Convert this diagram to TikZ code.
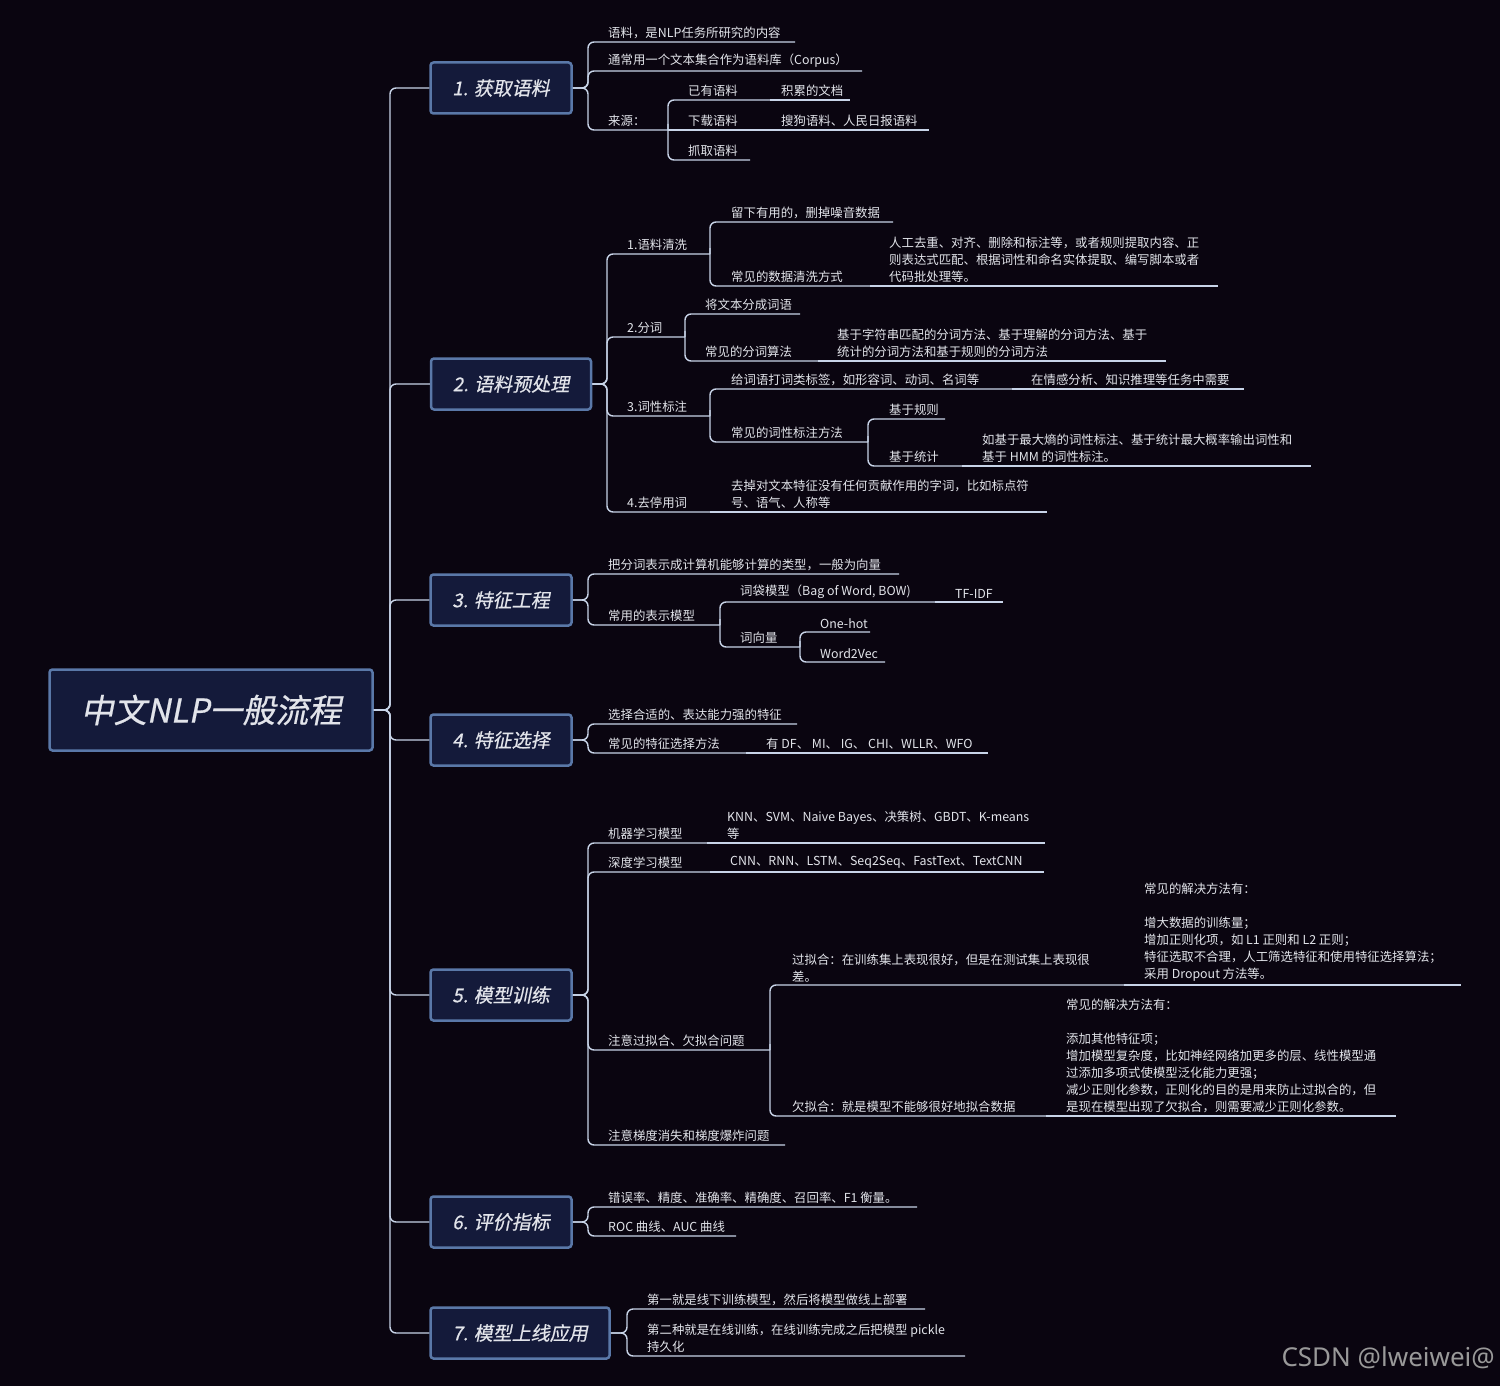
\documentclass[tikz,border=0pt]{standalone}
\usepackage{fontspec}
\setmainfont{Noto Sans CJK SC}
\newfontfamily\brf[FakeSlant=0.2,FakeBold=0.6]{Noto Sans CJK SC}
\newfontfamily\wmf{Noto Sans}
\usetikzlibrary{calc}
\definecolor{bg}{HTML}{0A0510}
\definecolor{nfill}{HTML}{141A3A}
\definecolor{nbord}{HTML}{5A78A8}
\definecolor{ln}{HTML}{C8D4E8}
\definecolor{tx}{HTML}{E2E4EA}
\newdimen\mytmpd
\newcommand\lf[7]{%
  \coordinate (#1) at (#5,#4);
  \path (#2); \pgfgetlastxy{\myax}{\myay}%
  \mytmpd=\dimexpr\myay+#4pt\relax
  \ifdim\mytmpd<1pt\ifdim\mytmpd>-1pt
    \draw[conn] (#2) -- (#1);
  \else
    \draw[conn] let \p1=(#2) in (\p1) -- ({#3pt},\y1) -- (#3,#4) -- (#1);
  \fi\else
    \draw[conn] let \p1=(#2) in (\p1) -- ({#3pt},\y1) -- (#3,#4) -- (#1);
  \fi
  \node[leaf] (#1t) at (#6,{#4-3}) {#7};}
\begin{document}
\begin{tikzpicture}[x=1pt,y=-1pt,
  conn/.style={draw=ln,line width=1.4pt,rounded corners=6pt},
  leaf/.style={anchor=south west,inner sep=0pt,text=tx,align=left,font=\fontsize{12.4}{17}\selectfont},
  br/.style={draw=nbord,fill=nfill,line width=2.5pt,rounded corners=3pt,text=tx,font=\brf\fontsize{19}{22}\selectfont,inner sep=0pt},
]
\fill[bg] (0,0) rectangle (1500,1386);
\useasboundingbox (0,0) rectangle (1500,1386);
\node[br,minimum width=323,minimum height=81,font=\brf\fontsize{33}{36}\selectfont] (root) at (211,710) {中文NLP一般流程};
\node[br,minimum width=141,minimum height=51] (b1) at (501,88) {1. 获取语料};
\node[br,minimum width=160,minimum height=51] (b2) at (511,384) {2. 语料预处理};
\node[br,minimum width=141,minimum height=51] (b3) at (501,600) {3. 特征工程};
\node[br,minimum width=141,minimum height=51] (b4) at (501,740) {4. 特征选择};
\node[br,minimum width=141,minimum height=51] (b5) at (501,995) {5. 模型训练};
\node[br,minimum width=141,minimum height=51] (b6) at (501,1222) {6. 评价指标};
\node[br,minimum width=179,minimum height=51] (b7) at (520,1333) {7. 模型上线应用};
\foreach \b in {b1,b2,b3,b4,b5,b6,b7}{
  \draw[conn] let \p1=(root.east), \p2=(\b.west) in (\p1) -- (390pt,\y1) -- (390pt,\y2) -- (\p2);}
% branch 1
\lf{a1}{b1.east}{588}{42}{795}{608}{语料，是NLP任务所研究的内容}
\lf{a2}{b1.east}{588}{71}{862}{608}{通常用一个文本集合作为语料库（Corpus）}
\lf{a3}{b1.east}{588}{130}{668}{608}{来源：}
\lf{a31}{a3}{668}{100}{770}{688}{已有语料}
\lf{a311}{a31}{770}{100}{850}{781}{积累的文档}
\lf{a32}{a3}{668}{130}{770}{688}{下载语料}
\lf{a321}{a32}{770}{130}{929}{781}{搜狗语料、人民日报语料}
\lf{a33}{a3}{668}{160}{750}{688}{抓取语料}
% branch 2
\lf{c1}{b2.east}{607}{254}{710}{627}{1.语料清洗}
\lf{c11}{c1}{710}{222}{893}{731}{留下有用的，删掉噪音数据}
\lf{c12}{c1}{710}{286}{870}{731}{常见的数据清洗方式}
\lf{c121}{c12}{870}{286}{1218}{889}{人工去重、对齐、删除和标注等，或者规则提取内容、正\\则表达式匹配、根据词性和命名实体提取、编写脚本或者\\代码批处理等。}
\lf{c2}{b2.east}{607}{337}{685}{627}{2.分词}
\lf{c21}{c2}{685}{314}{800}{705}{将文本分成词语}
\lf{c22}{c2}{685}{361}{818}{705}{常见的分词算法}
\lf{c221}{c22}{818}{361}{1166}{837}{基于字符串匹配的分词方法、基于理解的分词方法、基于\\统计的分词方法和基于规则的分词方法}
\lf{c3}{b2.east}{607}{416}{710}{627}{3.词性标注}
\lf{c31}{c3}{710}{389}{1012}{731}{给词语打词类标签，如形容词、动词、名词等}
\lf{c311}{c31}{1012}{389}{1244}{1031}{在情感分析、知识推理等任务中需要}
\lf{c32}{c3}{710}{442}{868}{731}{常见的词性标注方法}
\lf{c321}{c32}{868}{419}{945}{889}{基于规则}
\lf{c322}{c32}{868}{466}{962}{889}{基于统计}
\lf{c3221}{c322}{962}{466}{1311}{982}{如基于最大熵的词性标注、基于统计最大概率输出词性和\\基于 HMM 的词性标注。}
\lf{c4}{b2.east}{607}{512}{710}{627}{4.去停用词}
\lf{c41}{c4}{710}{512}{1047}{731}{去掉对文本特征没有任何贡献作用的字词，比如标点符\\号、语气、人称等}
% branch 3
\lf{d1}{b3.east}{588}{574}{899}{608}{把分词表示成计算机能够计算的类型，一般为向量}
\lf{d2}{b3.east}{588}{625}{720}{608}{常用的表示模型}
\lf{d21}{d2}{720}{602}{935}{740}{词袋模型（Bag of Word, BOW)}
\lf{d211}{d21}{935}{602}{1003}{955}{TF-IDF}
\lf{d22}{d2}{720}{647}{800}{740}{词向量}
\lf{d221}{d22}{800}{632}{870}{820}{One-hot}
\lf{d222}{d22}{800}{662}{885}{820}{Word2Vec}
% branch 4
\lf{e1}{b4.east}{588}{724}{797}{608}{选择合适的、表达能力强的特征}
\lf{e2}{b4.east}{588}{753}{746}{608}{常见的特征选择方法}
\lf{e21}{e2}{746}{753}{988}{766}{有 DF、 MI、 IG、 CHI、WLLR、WFO}
% branch 5
\lf{f1}{b5.east}{588}{843}{707}{608}{机器学习模型}
\lf{f11}{f1}{707}{843}{1045}{727}{KNN、SVM、Naive Bayes、决策树、GBDT、K-means\\等}
\lf{f2}{b5.east}{588}{872}{710}{608}{深度学习模型}
\lf{f21}{f2}{710}{872}{1044}{730}{CNN、RNN、LSTM、Seq2Seq、FastText、TextCNN}
\lf{f3}{b5.east}{588}{1050}{770}{608}{注意过拟合、欠拟合问题}
\lf{f31}{f3}{770}{985}{1124}{792}{过拟合：在训练集上表现很好，但是在测试集上表现很\\差。}
\lf{f311}{f31}{1124}{985}{1461}{1144}{常见的解决方法有：\\ \strut\\增大数据的训练量；\\增加正则化项，如 L1 正则和 L2 正则；\\特征选取不合理，人工筛选特征和使用特征选择算法；\\采用 Dropout 方法等。}
\lf{f32}{f3}{770}{1116}{1046}{792}{欠拟合：就是模型不能够很好地拟合数据}
\lf{f321}{f32}{1046}{1116}{1396}{1066}{常见的解决方法有：\\ \strut\\添加其他特征项；\\增加模型复杂度，比如神经网络加更多的层、线性模型通\\过添加多项式使模型泛化能力更强；\\减少正则化参数，正则化的目的是用来防止过拟合的，但\\是现在模型出现了欠拟合，则需要减少正则化参数。}
\lf{f4}{b5.east}{588}{1145}{785}{608}{注意梯度消失和梯度爆炸问题}
% branch 6
\lf{g1}{b6.east}{588}{1207}{917}{608}{错误率、精度、准确率、精确度、召回率、F1 衡量。}
\lf{g2}{b6.east}{588}{1236}{736}{608}{ROC 曲线、AUC 曲线}
% branch 7
\lf{h1}{b7.east}{627}{1309}{925}{647}{第一就是线下训练模型，然后将模型做线上部署}
\lf{h2}{b7.east}{627}{1356}{965}{647}{第二种就是在线训练，在线训练完成之后把模型 pickle\\持久化}
\node[anchor=east,inner sep=0pt,text=gray!80,font=\wmf\fontsize{26}{28}\selectfont] (wm) at (1495,1358) {CSDN @lweiwei@};
\end{tikzpicture}
\end{document}
